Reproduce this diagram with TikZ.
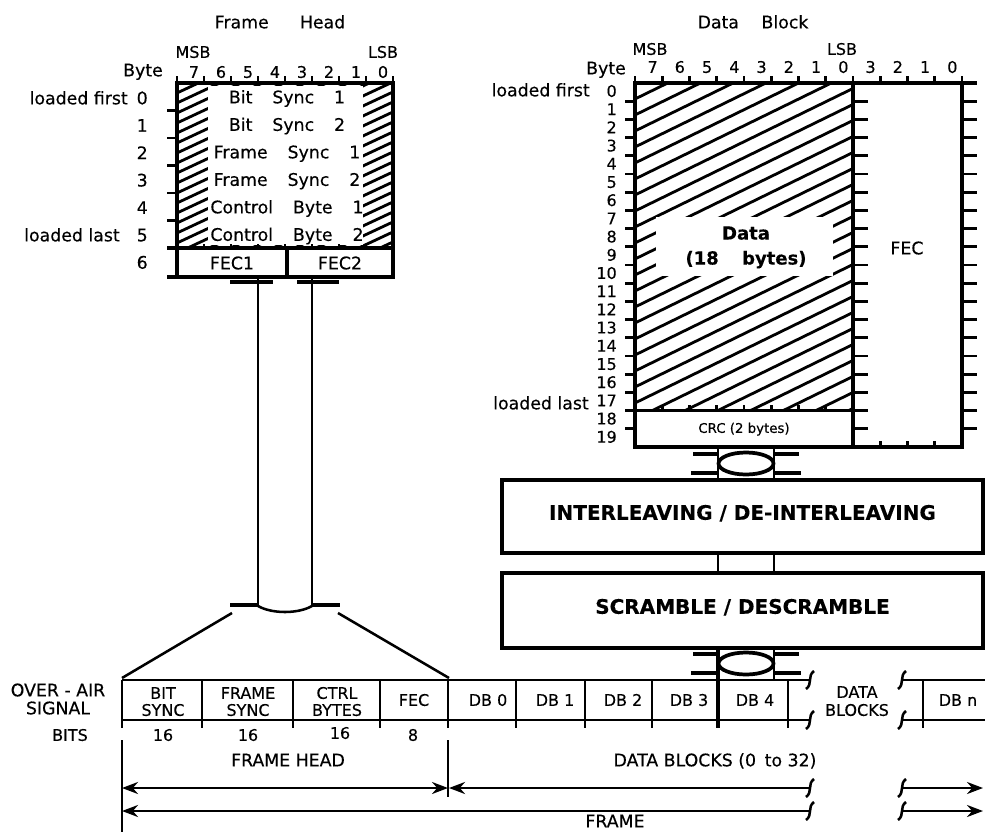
\documentclass[tikz,border=0pt]{standalone}
\usepackage{fontspec}
\setmainfont{DejaVu Sans}[FakeBold=0.3]
\usetikzlibrary{arrows.meta}
\newcommand{\wgap}{\hspace{1.15em}}

\begin{document}
\begin{tikzpicture}[
        x=0.75pt, y=-0.75pt,
        every node/.style={inner sep=0pt, text height=9.5pt, text depth=0pt, font=\fontsize{13}{13.5}\selectfont},
        smalllbl/.style={text height=8.75pt, font=\fontsize{12}{12.75}\selectfont},
        tinylbl/.style={text height=7.3pt, font=\fontsize{10}{12}\selectfont},
        boldlbl/.style={text height=9.8pt, font=\bfseries\fontsize{13.5}{16}\selectfont},
        procbox/.style={draw, line width=2.4pt, minimum width=360.75pt, text height=10.9pt, text depth=6pt, font=\bfseries\fontsize{15}{18}\selectfont},
        boxline/.style={line width=2.6pt},
        tickline/.style={line width=2.2pt},
        hatchline/.style={line width=2.1pt},
        busline/.style={line width=1.9pt},
        flangeline/.style={line width=3pt},
        sigline/.style={line width=1.9pt},
        >={Stealth[length=12pt,width=9pt]},
        brk/.pic={\draw[line width=1.9pt] (-4,9) .. controls (3,4) and (-3,-4) .. (4,-9);},
        coupler/.pic={
            \draw[flangeline] (-53,-9.5) -- (-27.5,-9.5) (27.5,-9.5) -- (53,-9.5)
                              (-55,9.5) -- (-27.5,9.5) (27.5,9.5) -- (55,9.5);
            \draw[line width=2.8pt] (0,0) ellipse [x radius=27.5, y radius=11];}
    ]
    \path[use as bounding box, fill=white] (0,0) rectangle (985,832);

    % ---- frame head ----
    \node (fhtitle) at (280,22) {Frame\hspace{1.8em}Head};
    \begin{scope}
        \clip (177,83) rectangle (393,248);
        \foreach \k in {0,...,27}
            \draw[hatchline] (177,83+10*\k) -- ++(250,-117);
    \end{scope}
    \fill[white] (208,86) rectangle (363,245);
    \draw[boxline] (177,83) rectangle (393,277);
    \draw[boxline] (167,248) -- (393,248);
    \draw[boxline] (167,277) -- (177,277);
    \draw[boxline] (287,248) -- (287,277);
    \foreach \j in {0,...,8}
        \draw[tickline] (177+27*\j,76) -- (177+27*\j,83);
    \foreach \r in {1,...,5}
        \draw[tickline] (167,83+27.5*\r) -- (177,83+27.5*\r);
    \foreach \j in {1,...,7}
        \draw[tickline] (177+27*\j,248) -- (177+27*\j,244);

    \node[smalllbl] (fhmsb) at (193,52) {MSB};
    \node[smalllbl] (fhlsb) at (383,52) {LSB};
    \node (fhbyte) at (143,70) {Byte};
    \foreach \j in {0,...,7} {
        \pgfmathtruncatemacro{\b}{7-\j}
        \node[smalllbl] (fhbit\j) at (177+27*\j+17,72) {\b};
    }
    \foreach \r/\t in {0/{Bit\wgap Sync\wgap 1}, 1/{Bit\wgap Sync\wgap 2},
                       2/{Frame\wgap Sync\wgap 1}, 3/{Frame\wgap Sync\wgap 2},
                       4/{Control\wgap Byte\wgap 1}, 5/{Control\wgap Byte\wgap 2}}
        \node (fhrow\r) at (287,97+27.5*\r) {\t};
    \foreach \r in {0,...,6}
        \node[anchor=east] (fhnum\r) at (148,98+27.4*\r) {\r};
    \node[anchor=east] (fhfirst) at (128,98) {loaded first};
    \node[anchor=east] (fhlast) at (120,235) {loaded last};
    \node (fhfec1) at (232,263) {FEC1};
    \node (fhfec2) at (340,263) {FEC2};

    % bus down to the over-air frame
    \draw[busline] (258,277) -- (258,606) (312,277) -- (312,606);
    \draw[flangeline] (230,282) -- (273,282) (297,282) -- (339,282);
    \draw[flangeline] (230,605) -- (258,605) (312,605) -- (340,605);
    \draw[busline] (258,606) .. controls (272,614) and (298,614) .. (312,606);
    \draw[sigline] (232,613) -- (122,678);
    \draw[sigline] (338,613) -- (449,678);

    % ---- data block ----
    \node (dbtitle) at (753,22) {Data\hspace{1.3em}Block};
    \begin{scope}
        \clip (635,83) rectangle (853,410.6);
        \foreach \k in {0,...,28}
            \draw[hatchline] (635,83+16*\k) -- ++(270,-132);
    \end{scope}
    \fill[white] (656,217) rectangle (833,276);
    \draw[boxline] (635,83) rectangle (853,447);
    \draw[boxline] (853,83) -- (977,83);
    \draw[boxline] (962,83) -- (962,447) -- (853,447);
    \draw[boxline] (625,410.6) -- (868,410.6);
    \foreach \j in {0,...,12}
        \draw[tickline] (635+27.25*\j,76) -- (635+27.25*\j,83);
    \foreach \r in {1,...,19} {
        \draw[tickline] (625,83+18.2*\r) -- (635,83+18.2*\r);
        \draw[tickline] (853,83+18.2*\r) -- (868,83+18.2*\r);
    }
    \foreach \r in {0,...,19}
        \draw[tickline] (962,83+18.2*\r) -- (977,83+18.2*\r);
    \foreach \j in {1,...,7}
        \draw[tickline] (635+27.25*\j,410.6) -- (635+27.25*\j,405);
    \foreach \j in {9,10,11}
        \draw[tickline] (635+27.25*\j,447) -- (635+27.25*\j,441);

    \node[smalllbl] (dbmsb) at (650,49) {MSB};
    \node[smalllbl] (dblsb) at (842,49) {LSB};
    \node (dbbyte) at (606,68) {Byte};
    \foreach \b [count=\j from 0] in {7,6,5,4,3,2,1,0,3,2,1,0}
        \node[smalllbl] (dbbit\j) at (635+27.25*\j+17.6,67) {\b};
    \foreach \r in {0,...,19}
        \node[smalllbl, anchor=east] (dbnum\r) at (617,91+18.2*\r) {\r};
    \node[anchor=east] (dbfirst) at (590,90) {loaded first};
    \node[anchor=east] (dblast) at (589,403) {loaded last};
    \node[boldlbl] (dbdata) at (746,233) {Data};
    \node[boldlbl] (dbsize) at (746,258) {(18\hspace{1.3em}bytes)};
    \node (dbfec) at (907,248) {FEC};
    \node[tinylbl] (dbcrc) at (744,428) {CRC (2 bytes)};
    \coordinate (dbbot) at (744,447);

    % ---- processing ----
    \node[procbox, minimum height=54.75pt] (ilv) at (742.5,516.5) {INTERLEAVING / DE-INTERLEAVING};
    \node[procbox, minimum height=56.25pt] (scr) at (742.5,610.5) {SCRAMBLE / DESCRAMBLE};
    \coordinate (busL) at (718,0);
    \coordinate (busR) at (774,0);
    \draw[busline] (busL |- dbbot) -- (busL |- ilv.north) (busR |- dbbot) -- (busR |- ilv.north);
    \pic at (746,463.5) {coupler};
    \draw[busline] (busL |- ilv.south) -- (busL |- scr.north) (busR |- ilv.south) -- (busR |- scr.north);
    \coordinate (ovtop) at (746,680);
    \draw[boxline] (busL |- scr.south) -- (718,728);
    \draw[busline] (busR |- scr.south) -- (busR |- ovtop);
    \pic at (746,663.5) {coupler};

    % ---- over-air signal ----
    \draw[sigline] (122,680) -- (810,680) (122,720) -- (810,720);
    \draw[sigline] (902,680) -- (985,680) (902,720) -- (985,720);
    \foreach \x in {122,202,293,380,448,516,585,652,788,923}
        \draw[sigline] (\x,680) -- (\x,728);
    \foreach \y in {680,720,788,811} {
        \pic at (810,\y) {brk};
        \pic at (902,\y) {brk};
    }

    \node (ovr1) at (58,690) {OVER - AIR};
    \node (ovr2) at (58,708) {SIGNAL};
    \node[smalllbl] (c1a) at (163,693) {BIT};
    \node[smalllbl] (c1b) at (163,710) {SYNC};
    \node[smalllbl] (c2a) at (248,693) {FRAME};
    \node[smalllbl] (c2b) at (248,710) {SYNC};
    \node[smalllbl] (c3a) at (337,693) {CTRL};
    \node[smalllbl] (c3b) at (337,710) {BYTES};
    \node[smalllbl] (c4) at (414,700) {FEC};
    \foreach \n/\x in {0/488,1/555,2/623,3/689,4/755}
        \node[smalllbl] (db\n) at (\x,700) {DB \n};
    \node[smalllbl] (dbsk1) at (857,692) {DATA};
    \node[smalllbl] (dbsk2) at (857,710) {BLOCKS};
    \node[smalllbl] (dbn) at (958,700) {DB n};

    \node[smalllbl] (bits) at (70,735) {BITS};
    \node[smalllbl] (b1) at (163,735) {16};
    \node[smalllbl] (b2) at (248,735) {16};
    \node[smalllbl] (b3) at (340,733) {16};
    \node[smalllbl] (b4) at (413,735) {8};
    \node (fhspan) at (288,760) {FRAME HEAD};
    \node (dbspan) at (715,760) {DATA BLOCKS (0\hspace{0.5em}to 32)};
    \node (frspan) at (615,821) {FRAME};

    % spans
    \draw[sigline] (122,740) -- (122,832);
    \draw[sigline] (448,740) -- (448,797);
    \draw[sigline,<->] (122,788) -- (448,788);
    \draw[sigline,<-] (449,788) -- (810,788);
    \draw[sigline,->] (902,788) -- (983,788);
    \draw[sigline,<-] (122,811) -- (810,811);
    \draw[sigline,->] (902,811) -- (983,811);
\end{tikzpicture}
\end{document}
